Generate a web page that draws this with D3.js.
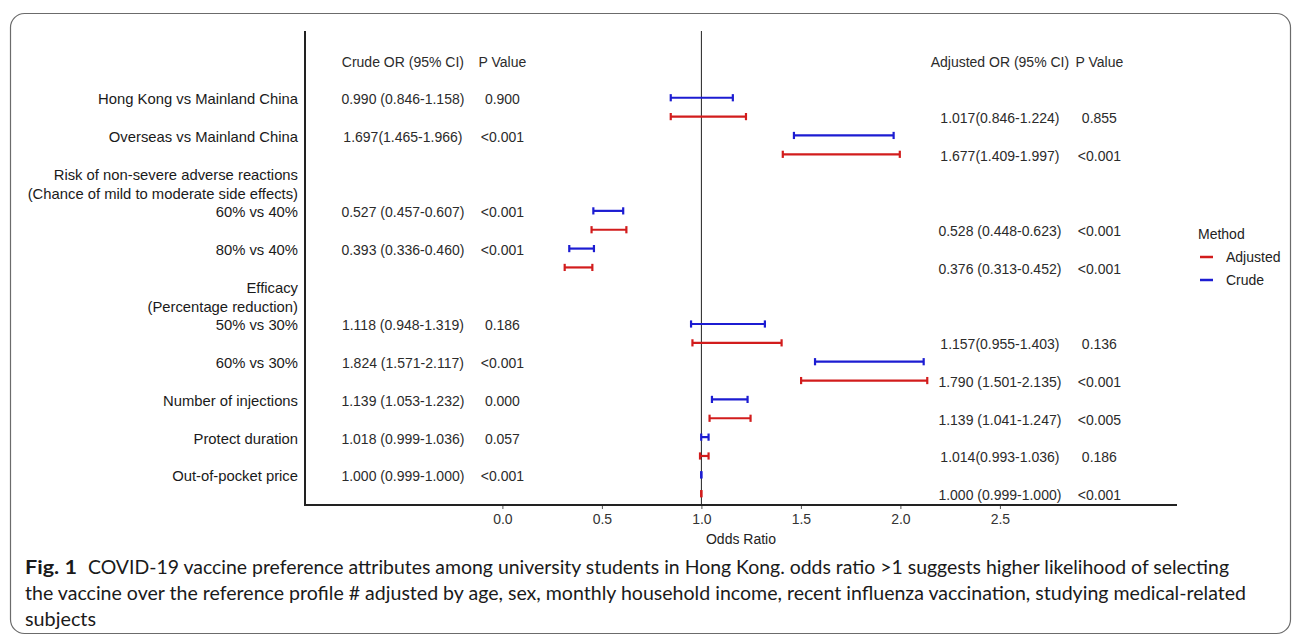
<!DOCTYPE html>
<html>
<head>
<meta charset="utf-8">
<script src="https://cdn.jsdelivr.net/npm/d3@7"></script>
<style>
  html, body { margin: 0; padding: 0; background: #fff; }
  svg { display: block; }
</style>
</head>
<body>
<svg id="chart" width="1296" height="636"></svg>
<script>
// ---------------- data ----------------
const rowOrder = ["__header", "Hong Kong vs Mainland China", "Overseas vs Mainland China",
  "Risk of non-severe adverse reactions", "60% vs 40%", "80% vs 40%", "Efficacy",
  "50% vs 30%", "60% vs 30%", "Number of injections", "Protect duration", "Out-of-pocket price"];
const groupSubtitles = {
  "Risk of non-severe adverse reactions": "(Chance of mild to moderate side effects)",
  "Efficacy": "(Percentage reduction)"
};
const categories = ["Hong Kong vs Mainland China", "Overseas vs Mainland China", "60% vs 40%",
  "80% vs 40%", "50% vs 30%", "60% vs 30%", "Number of injections", "Protect duration", "Out-of-pocket price"];

const crudeOR = [0.990, 1.697, 0.527, 0.393, 1.118, 1.824, 1.139, 1.018, 1.000];
const crudeLo = [0.846, 1.465, 0.457, 0.336, 0.948, 1.571, 1.053, 0.999, 0.999];
const crudeHi = [1.158, 1.966, 0.607, 0.460, 1.319, 2.117, 1.232, 1.036, 1.000];
const crudeText = ["0.990 (0.846-1.158)", "1.697(1.465-1.966)", "0.527 (0.457-0.607)", "0.393 (0.336-0.460)",
  "1.118 (0.948-1.319)", "1.824 (1.571-2.117)", "1.139 (1.053-1.232)", "1.018 (0.999-1.036)", "1.000 (0.999-1.000)"];
const crudeP = ["0.900", "<0.001", "<0.001", "<0.001", "0.186", "<0.001", "0.000", "0.057", "<0.001"];

const adjOR = [1.017, 1.677, 0.528, 0.376, 1.157, 1.790, 1.139, 1.014, 1.000];
const adjLo = [0.846, 1.409, 0.448, 0.313, 0.955, 1.501, 1.041, 0.993, 0.999];
const adjHi = [1.224, 1.997, 0.623, 0.452, 1.403, 2.135, 1.247, 1.036, 1.000];
const adjText = ["1.017(0.846-1.224)", "1.677(1.409-1.997)", "0.528 (0.448-0.623)", "0.376 (0.313-0.452)",
  "1.157(0.955-1.403)", "1.790 (1.501-2.135)", "1.139 (1.041-1.247)", "1.014(0.993-1.036)", "1.000 (0.999-1.000)"];
const adjP = ["0.855", "<0.001", "<0.001", "<0.001", "0.136", "<0.001", "<0.005", "0.186", "<0.001"];

const xTicks = [0.0, 0.5, 1.0, 1.5, 2.0, 2.5];
const headerCrude = ["Crude OR (95% CI)", "P Value"];
const headerAdj = ["Adjusted OR (95% CI)", "P Value"];
const methods = ["Adjusted", "Crude"];
const captionBold = "Fig. 1";
const captionLines = [
  "COVID-19 vaccine preference attributes among university students in Hong Kong. odds ratio >1 suggests higher likelihood of selecting",
  "the vaccine over the reference profile # adjusted by age, sex, monthly household income, recent influenza vaccination, studying medical-related",
  "subjects"
];

// ---------------- layout ----------------
const svg = d3.select("#chart");
const colCrude = "#1c1cd2", colAdj = "#d21c1c";
const colorScale = d3.scaleOrdinal().domain(methods).range([colAdj, colCrude]);
const font = "'Liberation Sans', Arial, sans-serif";

const x = d3.scaleLinear().domain([-0.992, 3.39]).range([305, 1177]);
const y = d3.scaleLinear().domain([-0.77, 11.8]).range([31, 505]);
const rowIndex = d => rowOrder.indexOf(d);

// outer frame
svg.append("rect").attr("x", 10.5).attr("y", 13.5).attr("width", 1280).attr("height", 620)
  .attr("rx", 14).attr("fill", "none").attr("stroke", "#6b6b6b").attr("stroke-width", 1.2);

// reference line at OR = 1
svg.append("line").attr("x1", x(1)).attr("x2", x(1)).attr("y1", 31).attr("y2", 505)
  .attr("stroke", "#222").attr("stroke-width", 1);

// x axis
const xAxis = d3.axisBottom(x).tickValues(xTicks).tickFormat(d3.format(".1f")).tickSize(4).tickPadding(5);
const gx = svg.append("g").attr("transform", "translate(0,505)").call(xAxis);
gx.select(".domain").remove();
gx.selectAll(".tick line").attr("stroke", "#555").attr("stroke-width", 1);
gx.selectAll(".tick text").attr("font-family", font).attr("font-size", 14).attr("fill", "#333")
  .attr("dy", "0.71em");
svg.append("line").attr("x1", 305).attr("x2", 1177).attr("y1", 505).attr("y2", 505)
  .attr("stroke", "#222").attr("stroke-width", 2);
// y axis line
svg.append("line").attr("x1", 305).attr("x2", 305).attr("y1", 31).attr("y2", 506)
  .attr("stroke", "#222").attr("stroke-width", 2);

svg.append("text").attr("x", (305 + 1177) / 2).attr("y", 539).attr("text-anchor", "middle")
  .attr("dominant-baseline", "central").attr("font-family", font).attr("font-size", 14).attr("fill", "#222")
  .text("Odds Ratio");

// row labels
const labelG = svg.append("g").attr("font-family", font).attr("font-size", 14.8).attr("fill", "#1a1a1a")
  .attr("text-anchor", "end");
rowOrder.slice(1).forEach(r => {
  const i = rowIndex(r);
  labelG.append("text").attr("x", 298).attr("y", y(i) + 1.5).attr("dominant-baseline", "central").text(r);
  if (groupSubtitles[r]) {
    labelG.append("text").attr("x", 298).attr("y", y(i + 0.5) + 1.5).attr("dominant-baseline", "central")
      .text(groupSubtitles[r]);
  }
});

// headers
const textG = svg.append("g").attr("font-family", font).attr("font-size", 14).attr("fill", "#2b2b2b")
  .attr("text-anchor", "middle");
textG.append("text").attr("x", x(-0.5)).attr("y", y(0) + 1.5).attr("dominant-baseline", "central").text(headerCrude[0]);
textG.append("text").attr("x", x(0)).attr("y", y(0) + 1.5).attr("dominant-baseline", "central").text(headerCrude[1]);
textG.append("text").attr("x", x(2.5)).attr("y", y(0) + 1.5).attr("dominant-baseline", "central").text(headerAdj[0]);
textG.append("text").attr("x", x(3.0)).attr("y", y(0) + 1.5).attr("dominant-baseline", "central").text(headerAdj[1]);

// table text
categories.forEach((c, k) => {
  const i = rowIndex(c);
  textG.append("text").attr("x", x(-0.5)).attr("y", y(i) + 1.5).attr("dominant-baseline", "central").text(crudeText[k]);
  textG.append("text").attr("x", x(0)).attr("y", y(i) + 1.5).attr("dominant-baseline", "central").text(crudeP[k]);
  textG.append("text").attr("x", x(2.5)).attr("y", y(i + 0.5) + 1.5).attr("dominant-baseline", "central").text(adjText[k]);
  textG.append("text").attr("x", x(3.0)).attr("y", y(i + 0.5) + 1.5).attr("dominant-baseline", "central").text(adjP[k]);
});

// error bars
const bars = [];
categories.forEach((c, k) => {
  bars.push({ m: "Crude", pos: rowIndex(c), lo: crudeLo[k], hi: crudeHi[k] });
  bars.push({ m: "Adjusted", pos: rowIndex(c) + 0.5, lo: adjLo[k], hi: adjHi[k] });
});
const capH = 3.6;
const eb = svg.append("g").selectAll("g").data(bars).join("g")
  .attr("stroke", d => colorScale(d.m)).attr("stroke-width", 2.2).attr("fill", "none");
eb.append("line").attr("x1", d => x(d.lo)).attr("x2", d => x(d.hi))
  .attr("y1", d => y(d.pos)).attr("y2", d => y(d.pos));
eb.append("line").attr("x1", d => x(d.lo)).attr("x2", d => x(d.lo))
  .attr("y1", d => y(d.pos) - capH).attr("y2", d => y(d.pos) + capH);
eb.append("line").attr("x1", d => x(d.hi)).attr("x2", d => x(d.hi))
  .attr("y1", d => y(d.pos) - capH).attr("y2", d => y(d.pos) + capH);

// legend
const lg = svg.append("g").attr("font-family", font).attr("font-size", 14).attr("fill", "#222");
lg.append("text").attr("x", 1198).attr("y", 234).attr("dominant-baseline", "central").text("Method");
methods.forEach((m, j) => {
  const yy = 257 + j * 23;
  lg.append("line").attr("x1", 1200).attr("x2", 1213).attr("y1", yy).attr("y2", yy)
    .attr("stroke", colorScale(m)).attr("stroke-width", 2.5);
  lg.append("text").attr("x", 1226).attr("y", yy).attr("dominant-baseline", "central").text(m);
});

// caption
const capFont = "Lato, 'Open Sans', sans-serif";
const cap = svg.append("g").attr("font-family", capFont).attr("font-size", 18.5).attr("fill", "#1a1a1a");
cap.append("text").attr("x", 25).attr("y", 573.5).attr("font-weight", "bold")
  .attr("textLength", 52).attr("lengthAdjust", "spacingAndGlyphs").text(captionBold);
cap.append("text").attr("x", 88).attr("y", 573.5)
  .attr("textLength", 1229 - 88).attr("lengthAdjust", "spacingAndGlyphs").text(captionLines[0]);
cap.append("text").attr("x", 25).attr("y", 599.5)
  .attr("textLength", 1246 - 25).attr("lengthAdjust", "spacingAndGlyphs").text(captionLines[1]);
cap.append("text").attr("x", 25).attr("y", 625.5)
  .attr("textLength", 96 - 25).attr("lengthAdjust", "spacingAndGlyphs").text(captionLines[2]);
</script>
</body>
</html>
